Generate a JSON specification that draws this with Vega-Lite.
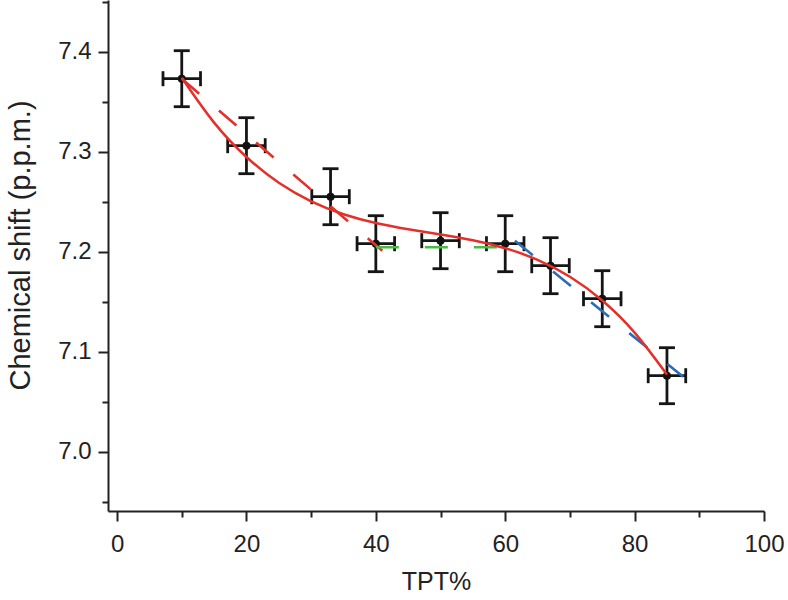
{
  "$schema": "https://vega.github.io/schema/vega-lite/v6.json",
  "width": 656,
  "height": 511,
  "autosize": {"type": "none"},
  "padding": {"left": 108, "top": 0, "right": 24, "bottom": 89},
  "background": "white",
  "config": {
    "view": {"stroke": null},
    "font": "Liberation Sans",
    "axis": {
      "grid": false,
      "domainColor": "#222222",
      "domainWidth": 2,
      "tickColor": "#222222",
      "tickWidth": 2,
      "labelFont": "Liberation Sans",
      "labelFontSize": 24,
      "labelColor": "#222222",
      "titleFont": "Liberation Sans",
      "titleFontSize": 25,
      "titleFontWeight": "normal",
      "titleColor": "#222222"
    }
  },
  "datasets": {
    "points": [
      {"tpt": 10, "shift": 7.373, "ylo": 7.345, "yhi": 7.401, "xlo": 7.1, "xhi": 12.9},
      {"tpt": 20, "shift": 7.306, "ylo": 7.278, "yhi": 7.334, "xlo": 17.1, "xhi": 22.9},
      {"tpt": 33, "shift": 7.255, "ylo": 7.227, "yhi": 7.283, "xlo": 30.1, "xhi": 35.9},
      {"tpt": 40, "shift": 7.208, "ylo": 7.18, "yhi": 7.236, "xlo": 37.1, "xhi": 42.9},
      {"tpt": 50, "shift": 7.211, "ylo": 7.183, "yhi": 7.239, "xlo": 47.1, "xhi": 52.9},
      {"tpt": 60, "shift": 7.208, "ylo": 7.18, "yhi": 7.236, "xlo": 57.1, "xhi": 62.9},
      {"tpt": 67, "shift": 7.186, "ylo": 7.158, "yhi": 7.214, "xlo": 64.1, "xhi": 69.9},
      {"tpt": 75, "shift": 7.153, "ylo": 7.125, "yhi": 7.181, "xlo": 72.1, "xhi": 77.9},
      {"tpt": 85, "shift": 7.076, "ylo": 7.048, "yhi": 7.104, "xlo": 82.1, "xhi": 87.9}
    ],
    "fit": [
      {"tpt": 10, "shift": 7.374},
      {"tpt": 15, "shift": 7.3291},
      {"tpt": 20, "shift": 7.2947},
      {"tpt": 25, "shift": 7.2689},
      {"tpt": 30, "shift": 7.2504},
      {"tpt": 35, "shift": 7.2375},
      {"tpt": 40, "shift": 7.2287},
      {"tpt": 45, "shift": 7.2225},
      {"tpt": 50, "shift": 7.2173},
      {"tpt": 55, "shift": 7.2115},
      {"tpt": 60, "shift": 7.2035},
      {"tpt": 65, "shift": 7.1918},
      {"tpt": 70, "shift": 7.1749},
      {"tpt": 75, "shift": 7.1512},
      {"tpt": 80, "shift": 7.1191},
      {"tpt": 85, "shift": 7.0771}
    ],
    "segs": [
      {"series": "low", "tpt": 10, "shift": 7.373},
      {"series": "low", "tpt": 41, "shift": 7.201},
      {"series": "mid", "tpt": 40, "shift": 7.2045},
      {"series": "mid", "tpt": 60.5, "shift": 7.2045},
      {"series": "high", "tpt": 61.5, "shift": 7.211},
      {"series": "high", "tpt": 87.5, "shift": 7.075}
    ]
  },
  "encoding": {
    "x": {
      "type": "quantitative",
      "scale": {"domain": [-1.4, 100], "nice": false, "zero": false},
      "axis": {
        "title": "TPT%",
        "values": [0, 10, 20, 30, 40, 50, 60, 70, 80, 90, 100],
        "labelExpr": "datum.value % 20 === 0 ? datum.label : ''",
        "labelFontSize": 24,
        "labelFont": "Liberation Sans",
        "tickSize": 10,
        "tickDash": {"condition": {"test": "datum.value % 20 !== 0", "value": [6, 20]}, "value": []},
        "labelPadding": 11,
        "labelFlush": false,
        "labelOverlap": false,
        "titleFontSize": 25,
        "titleY": 70,
        "titleBaseline": "middle"
      }
    },
    "y": {
      "type": "quantitative",
      "scale": {"domain": [6.9407, 7.4517], "nice": false, "zero": false},
      "axis": {
        "title": "Chemical shift (p.p.m.)",
        "values": [6.95, 7.0, 7.05, 7.1, 7.15, 7.2, 7.25, 7.3, 7.35, 7.4, 7.45],
        "labelExpr": "abs(datum.value*10 - round(datum.value*10)) < 0.001 ? format(datum.value, '.1f') : ''",
        "labelFontSize": 24,
        "labelFont": "Liberation Sans",
        "tickSize": 10,
        "tickDash": {"condition": {"test": "abs(datum.value*10 - round(datum.value*10)) > 0.001", "value": [6, 20]}, "value": []},
        "labelPadding": 7,
        "labelOverlap": false,
        "labelFlush": false,
        "titleFontSize": 29,
        "titleX": -88,
        "titleY": 245,
        "titleAngle": -90,
        "titleAlign": "center",
        "titleBaseline": "middle"
      }
    }
  },
  "layer": [
    {
      "data": {"name": "points"},
      "mark": {"type": "rule", "strokeWidth": 2.8, "color": "#151515"},
      "encoding": {
        "x": {"field": "tpt"},
        "y": {"field": "ylo"},
        "y2": {"field": "yhi"}
      }
    },
    {
      "data": {"name": "points"},
      "mark": {"type": "rule", "strokeWidth": 2.8, "color": "#151515"},
      "encoding": {
        "x": {"field": "xlo"},
        "x2": {"field": "xhi"},
        "y": {"field": "shift"}
      }
    },
    {
      "data": {"name": "points"},
      "mark": {"type": "tick", "orient": "horizontal", "size": 16, "thickness": 2.8, "color": "#151515", "opacity": 1},
      "encoding": {
        "x": {"field": "tpt"},
        "y": {"field": "ylo"}
      }
    },
    {
      "data": {"name": "points"},
      "mark": {"type": "tick", "orient": "horizontal", "size": 16, "thickness": 2.8, "color": "#151515", "opacity": 1},
      "encoding": {
        "x": {"field": "tpt"},
        "y": {"field": "yhi"}
      }
    },
    {
      "data": {"name": "points"},
      "mark": {"type": "tick", "orient": "vertical", "size": 15, "thickness": 2.8, "color": "#151515", "opacity": 1},
      "encoding": {
        "x": {"field": "xlo"},
        "y": {"field": "shift"}
      }
    },
    {
      "data": {"name": "points"},
      "mark": {"type": "tick", "orient": "vertical", "size": 15, "thickness": 2.8, "color": "#151515", "opacity": 1},
      "encoding": {
        "x": {"field": "xhi"},
        "y": {"field": "shift"}
      }
    },
    {
      "data": {"name": "points"},
      "mark": {"type": "circle", "size": 64, "color": "#111111", "opacity": 1},
      "encoding": {
        "x": {"field": "tpt"},
        "y": {"field": "shift"}
      }
    },
    {
      "data": {"name": "segs"},
      "mark": {"type": "line", "strokeWidth": 2.6, "strokeDash": [23, 26]},
      "encoding": {
        "x": {"field": "tpt"},
        "y": {"field": "shift"},
        "color": {"field": "series", "type": "nominal", "scale": {"domain": ["low", "mid", "high"], "range": ["#e4302b", "#4bb748", "#2d6bb5"]}, "legend": null}
      }
    },
    {
      "data": {"name": "fit"},
      "mark": {"type": "line", "strokeWidth": 2.5, "color": "#e4302b", "interpolate": "natural"},
      "encoding": {
        "x": {"field": "tpt"},
        "y": {"field": "shift"}
      }
    }
  ]
}
